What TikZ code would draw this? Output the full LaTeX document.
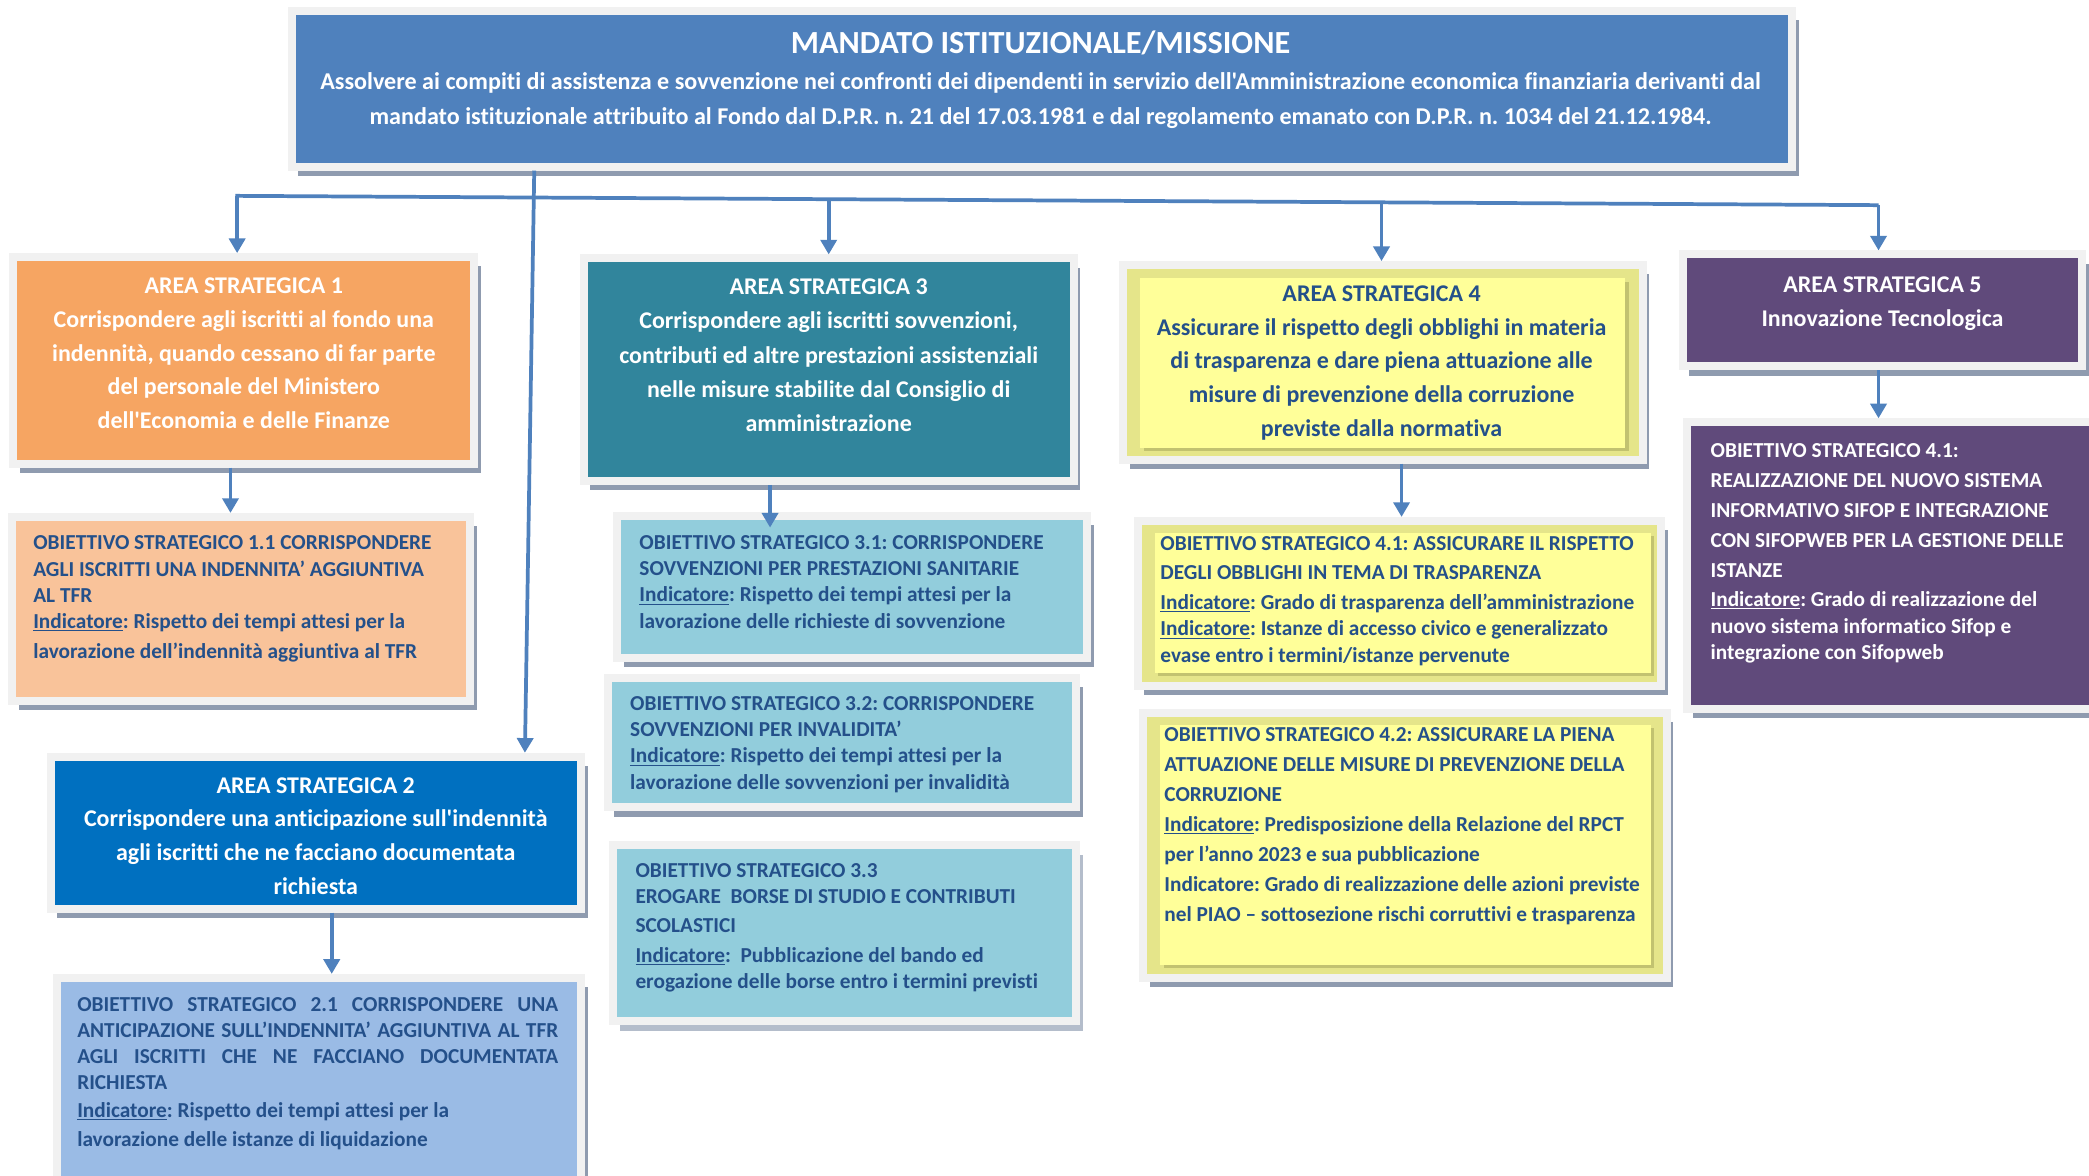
\documentclass[tikz,border=0pt]{standalone}
\usepackage{fontspec}
\newfontfamily\calib{Carlito}[Ligatures=CommonOff]
\usetikzlibrary{arrows.meta,shadows,calc}
\definecolor{topblue}{HTML}{4F81BD}
\definecolor{orangeA}{HTML}{F6A562}
\definecolor{peach}{HTML}{F9C39A}
\definecolor{blueA}{HTML}{0070C0}
\definecolor{lblue}{HTML}{9ABBE5}
\definecolor{tealA}{HTML}{31859C}
\definecolor{aqua}{HTML}{92CDDC}
\definecolor{band}{HTML}{E5E58A}
\definecolor{yel}{HTML}{FFFF99}
\definecolor{olived}{HTML}{C2C270}
\definecolor{purp}{HTML}{604A7B}
\definecolor{frameg}{HTML}{F1F1F1}
\definecolor{shadowg}{HTML}{8F9BAF}
\definecolor{shadowsoft}{HTML}{B4BDCB}
\definecolor{navy}{HTML}{24508A}
\definecolor{arrowc}{HTML}{4F81BD}
\newcommand\tstrut{\rule{0pt}{1em}}
\newcommand\indu{\underline{Indicatore}}
\newcommand\mkbox[7][boxframe]{\node[#1, fill=#7, minimum width={#5-#3-6}, minimum height={#6-#4-6}] (#2) at ({(#3+#5)/2},{(#4+#6)/2}) {};}
\newcommand\mkinner[6]{\node[innerbox, fill=#6, minimum width={#4-#2}, minimum height={#5-#3}] (#1) at ({(#2+#4)/2},{(#3+#5)/2}) {};}
\tikzset{
 boxbase/.style={rectangle, draw=frameg, line width=6pt, inner sep=0pt, outer sep=3pt},
 boxframe/.style={boxbase, drop shadow={shadow xshift=5pt, shadow yshift=-7pt, fill=shadowg, opacity=1}},
 boxsoft/.style={boxbase, drop shadow={shadow xshift=5pt, shadow yshift=-8pt, fill=shadowsoft, opacity=1}},
 innerbox/.style={rectangle, draw=none, inner sep=0pt, outer sep=0pt, drop shadow={shadow xshift=2.5pt, shadow yshift=-2.5pt, fill=olived, opacity=1}},
 ctext/.style={inner sep=0pt, outer sep=0pt, align=center, anchor=north},
 ltext/.style={inner sep=0pt, outer sep=0pt, align=left, anchor=north west},
 areafont/.style={font=\calib\bfseries\frenchspacing\fontsize{18}{25.3}\selectfont},
 objfont/.style={font=\calib\bfseries\frenchspacing\fontsize{16}{19.7}\selectfont},
 conn/.style={draw=arrowc, line width=2.8pt},
 arr/.style={conn, -{Triangle[length=11pt,width=12pt]}},
}
\begin{document}
\begin{tikzpicture}[x=1pt,y=-1pt]
\useasboundingbox (0,0) rectangle (1568,882);
\clip (0,0) rectangle (1568,882);
\fill[white] (0,0) rectangle (1568,882);

% boxes
\mkbox{top}{216}{5}{1348}{128}{topblue}
\mkbox{a1}{7}{190}{359}{351}{orangeA}
\mkbox{o11}{6}{385}{356}{529}{peach}
\mkbox{a2}{35}{565}{439}{685}{blueA}
\mkbox{o21}{40}{731}{439}{895}{lblue}
\mkbox{a3}{435}{191}{809}{364}{tealA}
\mkbox{o31}{460}{384}{819}{497}{aqua}
\mkbox{o32}{453}{506}{811}{609}{aqua}
\mkbox[boxsoft]{o33}{457}{631}{811}{769}{aqua}
\mkbox{a4}{840}{196}{1236}{348}{band}
\mkinner{a4i}{856}{209}{1220}{336}{yel}
\mkbox{o41}{851}{388}{1250}{518}{band}
\mkinner{o41i}{867}{400}{1239}{505}{yel}
\mkbox{o42}{855}{532}{1254}{737}{band}
\mkinner{o42i}{871}{544}{1239}{724}{yel}
\mkbox{a5}{1260}{188}{1566}{278}{purp}
\mkbox{o5}{1263}{314}{1581}{535}{purp}

% texts
\node[ctext, text=white, font=\calib\bfseries\frenchspacing\fontsize{24.2}{28}\selectfont] (topT) at (781,16.1) {\tstrut MANDATO ISTITUZIONALE/MISSIONE};
\node[ctext, text=white, font=\calib\bfseries\frenchspacing\fontsize{18.1}{26}\selectfont] (topB) at (781,49.3) {\tstrut Assolvere ai compiti di assistenza e sovvenzione nei confronti dei dipendenti in servizio dell'Amministrazione economica finanziaria derivanti dal\\ mandato istituzionale attribuito al Fondo dal D.P.R. n. 21 del 17.03.1981 e dal regolamento emanato con D.P.R. n. 1034 del 21.12.1984.};

\node[ctext, areafont, text=white] (a1t) at (183,202.4) {\tstrut AREA STRATEGICA 1\\ Corrispondere agli iscritti al fondo una\\ indennità, quando cessano di far parte\\ del personale del Ministero\\ dell'Economia e delle Finanze};

\node[ltext, objfont, text=navy] (o11t) at (25,396.8) {\tstrut OBIETTIVO STRATEGICO 1.1 CORRISPONDERE\\ AGLI ISCRITTI UNA INDENNITA’ AGGIUNTIVA\\ AL TFR\\ \indu: Rispetto dei tempi attesi per la\\[2.3pt] lavorazione dell’indennità aggiuntiva al TFR};

\node[ctext, areafont, text=white] (a2t) at (237,577.4) {\tstrut AREA STRATEGICA 2\\ Corrispondere una anticipazione sull'indennità\\ agli iscritti che ne facciano documentata\\ richiesta};

\node[ltext, font=\calib\bfseries\frenchspacing\fontsize{16}{19.4}\selectfont, text=navy] (o21t) at (58,743.3) {\tstrut\makebox[361pt][s]{OBIETTIVO STRATEGICO 2.1 CORRISPONDERE UNA}\\ \makebox[361pt][s]{ANTICIPAZIONE SULL’INDENNITA’ AGGIUNTIVA AL TFR}\\ \makebox[361pt][s]{AGLI ISCRITTI CHE NE FACCIANO DOCUMENTATA}\\ RICHIESTA\\[1.6pt] \indu: Rispetto dei tempi attesi per la\\[2.6pt] lavorazione delle istanze di liquidazione};

\node[ctext, font=\calib\bfseries\frenchspacing\fontsize{18}{25.7}\selectfont, text=white] (a3t) at (622,203.2) {\tstrut AREA STRATEGICA 3\\ Corrispondere agli iscritti sovvenzioni,\\ contributi ed altre prestazioni assistenziali\\ nelle misure stabilite dal Consiglio di\\ amministrazione};

\node[ltext, objfont, text=navy] (o31t) at (480,396.3) {\tstrut OBIETTIVO STRATEGICO 3.1: CORRISPONDERE\\ SOVVENZIONI PER PRESTAZIONI SANITARIE\\ \indu: Rispetto dei tempi attesi per la\\ lavorazione delle richieste di sovvenzione};

\node[ltext, objfont, text=navy] (o32t) at (473,517.3) {\tstrut OBIETTIVO STRATEGICO 3.2: CORRISPONDERE\\ SOVVENZIONI PER INVALIDITA’\\ \indu: Rispetto dei tempi attesi per la\\ lavorazione delle sovvenzioni per invalidità};

\node[ltext, font=\calib\bfseries\frenchspacing\fontsize{16}{20}\selectfont, text=navy] (o33t) at (477,642.3) {\tstrut OBIETTIVO STRATEGICO 3.3\\ EROGARE\ \ BORSE DI STUDIO E CONTRIBUTI\\[2pt] SCOLASTICI\\[2pt] \indu:\ \ Pubblicazione del bando ed\\ erogazione delle borse entro i termini previsti};

\node[ctext, areafont, text=navy] (a4t) at (1037,208.2) {\tstrut AREA STRATEGICA 4\\ Assicurare il rispetto degli obblighi in materia\\ di trasparenza e dare piena attuazione alle\\ misure di prevenzione della corruzione\\ previste dalla normativa};

\node[ltext, font=\calib\bfseries\frenchspacing\fontsize{16}{20}\selectfont, text=navy] (o41t) at (871,397.3) {\tstrut OBIETTIVO STRATEGICO 4.1: ASSICURARE IL RISPETTO\\[2pt] DEGLI OBBLIGHI IN TEMA DI TRASPARENZA\\[2pt] \indu: Grado di trasparenza dell’amministrazione\\ \indu: Istanze di accesso civico e generalizzato\\ evase entro i termini/istanze pervenute};

\node[ltext, font=\calib\bfseries\frenchspacing\fontsize{16}{22.5}\selectfont, text=navy] (o42t) at (874,540.3) {\tstrut OBIETTIVO STRATEGICO 4.2: ASSICURARE LA PIENA\\ ATTUAZIONE DELLE MISURE DI PREVENZIONE DELLA\\ CORRUZIONE\\ \indu: Predisposizione della Relazione del RPCT\\ per l’anno 2023 e sua pubblicazione\\ Indicatore: Grado di realizzazione delle azioni previste\\ nel PIAO – sottosezione rischi corruttivi e trasparenza};

\node[ctext, areafont, text=white] (a5t) at (1413,201.6) {\tstrut AREA STRATEGICA 5\\ Innovazione Tecnologica};

\node[ltext, font=\calib\bfseries\frenchspacing\fontsize{16}{20}\selectfont, text=white] (o5t) at (1284,327.3) {\tstrut OBIETTIVO STRATEGICO 4.1:\\[2.5pt] REALIZZAZIONE DEL NUOVO SISTEMA\\[2.5pt] INFORMATIVO SIFOP E INTEGRAZIONE\\[2.5pt] CON SIFOPWEB PER LA GESTIONE DELLE\\[2.5pt] ISTANZE\\[2pt] \indu: Grado di realizzazione del\\ nuovo sistema informatico Sifop e\\ integrazione con Sifopweb};

% connectors
\coordinate (busL) at (178,147);
\coordinate (busR) at (1410,154);
\coordinate (b3) at ($(busL)!0.3604!(busR)$);
\coordinate (b4) at ($(busL)!0.6972!(busR)$);
\draw[conn] ($(busL)+(-1.4,0)$) -- (busR);
\draw[arr] (busL) -- (busL |- a1.north);
\draw[arr] (b3) -- (b3 |- a3.north);
\draw[arr] (b4) -- (b4 |- a4.north);
\draw[arr] (busR) -- (busR |- a5.north);
\coordinate (t2) at ($(top.south)+(-381,0)$);
\coordinate (a2in) at ($(a2.north)+(157,0)$);
\draw[arr] (t2) -- (a2in);
\draw[arr] ($(a1.south)+(-10,0)$) -- ($(a1.south |- o11.north)+(-10,0)$);
\draw[arr] ($(a2.south)+(12,0)$) -- ($(a2.south |- o21.north)+(12,0)$);
\draw[arr] ($(a3.south)+(-44,0)$) -- ($(a3.south |- o31.north)+(-44,12)$);
\draw[arr] ($(a4.south)+(14,0)$) -- ($(a4.south |- o41.north)+(14,0)$);
\draw[arr] ($(a5.south)+(-3,0)$) -- ($(a5.south |- o5.north)+(-3,0)$);
\end{tikzpicture}
\end{document}
